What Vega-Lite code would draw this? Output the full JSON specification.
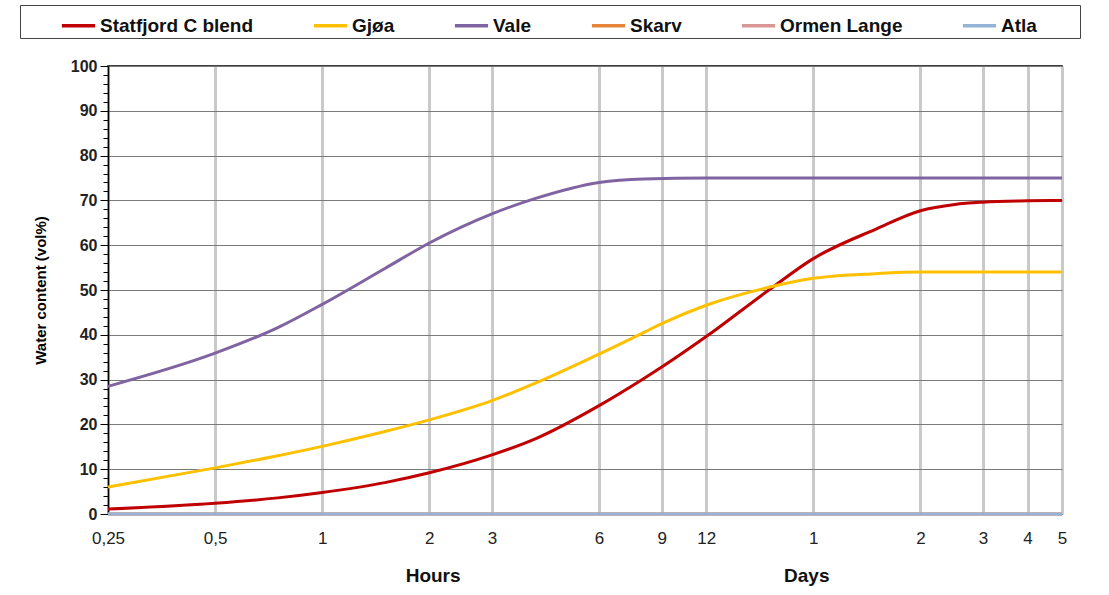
{
  "$schema": "https://vega.github.io/schema/vega-lite/v6.json",
  "width": 954,
  "height": 448,
  "autosize": {"type": "none"},
  "padding": {"left": 108, "top": 66, "right": 47, "bottom": 81},
  "background": "white",
  "config": {
    "font": "Liberation Sans",
    "view": {"stroke": "#000", "strokeWidth": 1.5}
  },
  "layer": [
    {
      "data": {
        "values": [
          {"series": "Statfjord C blend", "hours": 0.25, "water": 1.1},
          {"series": "Statfjord C blend", "hours": 0.5, "water": 2.4},
          {"series": "Statfjord C blend", "hours": 0.75, "water": 3.6},
          {"series": "Statfjord C blend", "hours": 1, "water": 4.8},
          {"series": "Statfjord C blend", "hours": 1.5, "water": 7.0},
          {"series": "Statfjord C blend", "hours": 2, "water": 9.2},
          {"series": "Statfjord C blend", "hours": 3, "water": 13.2},
          {"series": "Statfjord C blend", "hours": 4, "water": 16.9},
          {"series": "Statfjord C blend", "hours": 6, "water": 24.2},
          {"series": "Statfjord C blend", "hours": 8, "water": 30.2},
          {"series": "Statfjord C blend", "hours": 9, "water": 32.8},
          {"series": "Statfjord C blend", "hours": 12, "water": 39.6},
          {"series": "Statfjord C blend", "hours": 18, "water": 50.0},
          {"series": "Statfjord C blend", "hours": 24, "water": 57.0},
          {"series": "Statfjord C blend", "hours": 36, "water": 63.6},
          {"series": "Statfjord C blend", "hours": 48, "water": 67.7},
          {"series": "Statfjord C blend", "hours": 60, "water": 69.1},
          {"series": "Statfjord C blend", "hours": 72, "water": 69.6},
          {"series": "Statfjord C blend", "hours": 96, "water": 69.9},
          {"series": "Statfjord C blend", "hours": 120, "water": 70.0},
          {"series": "Gjøa", "hours": 0.25, "water": 6.0},
          {"series": "Gjøa", "hours": 0.5, "water": 10.3},
          {"series": "Gjøa", "hours": 0.75, "water": 13.0},
          {"series": "Gjøa", "hours": 1, "water": 15.1},
          {"series": "Gjøa", "hours": 1.5, "water": 18.4},
          {"series": "Gjøa", "hours": 2, "water": 21.0},
          {"series": "Gjøa", "hours": 3, "water": 25.3},
          {"series": "Gjøa", "hours": 4, "water": 29.3},
          {"series": "Gjøa", "hours": 6, "water": 35.7},
          {"series": "Gjøa", "hours": 8, "water": 40.5},
          {"series": "Gjøa", "hours": 9, "water": 42.5},
          {"series": "Gjøa", "hours": 12, "water": 46.6},
          {"series": "Gjøa", "hours": 18, "water": 50.6},
          {"series": "Gjøa", "hours": 24, "water": 52.6},
          {"series": "Gjøa", "hours": 36, "water": 53.65},
          {"series": "Gjøa", "hours": 48, "water": 54.0},
          {"series": "Gjøa", "hours": 72, "water": 54.0},
          {"series": "Gjøa", "hours": 120, "water": 54.0},
          {"series": "Vale", "hours": 0.25, "water": 28.5},
          {"series": "Vale", "hours": 0.5, "water": 35.9},
          {"series": "Vale", "hours": 0.75, "water": 41.6},
          {"series": "Vale", "hours": 1, "water": 46.8},
          {"series": "Vale", "hours": 1.5, "water": 54.8},
          {"series": "Vale", "hours": 2, "water": 60.5},
          {"series": "Vale", "hours": 3, "water": 67.0},
          {"series": "Vale", "hours": 4, "water": 70.5},
          {"series": "Vale", "hours": 6, "water": 74.0},
          {"series": "Vale", "hours": 8, "water": 74.8},
          {"series": "Vale", "hours": 12, "water": 75.0},
          {"series": "Vale", "hours": 24, "water": 75.0},
          {"series": "Vale", "hours": 48, "water": 75.0},
          {"series": "Vale", "hours": 120, "water": 75.0},
          {"series": "Skarv", "hours": 0.25, "water": 0},
          {"series": "Skarv", "hours": 120, "water": 0},
          {"series": "Ormen Lange", "hours": 0.25, "water": 0},
          {"series": "Ormen Lange", "hours": 120, "water": 0},
          {"series": "Atla", "hours": 0.25, "water": 0},
          {"series": "Atla", "hours": 120, "water": 0}
        ]
      },
      "mark": {"type": "line", "strokeWidth": 3, "interpolate": "monotone", "clip": false},
      "encoding": {
        "x": {
          "field": "hours",
          "type": "quantitative",
          "scale": {"type": "log", "domain": [0.25, 120], "nice": false},
          "axis": {
            "title": null,
            "values": [0.25, 0.5, 1, 2, 3, 6, 9, 12, 24, 48, 72, 96, 120],
            "labelExpr": "datum.value >= 24 ? toString(datum.value / 24) : replace(toString(datum.value), '.', ',')",
            "labelFlush": false,
            "labelOverlap": false,
            "grid": true,
            "gridColor": "#c9c9c9",
            "gridWidth": 3,
            "ticks": false,
            "domain": false,
            "labelFontSize": 17,
            "labelColor": "#222",
            "labelPadding": 16
          }
        },
        "y": {
          "field": "water",
          "type": "quantitative",
          "scale": {"domain": [0, 100], "nice": false},
          "axis": {
            "title": "Water content (vol%)",
            "titleFontSize": 15,
            "titleFontWeight": "bold",
            "titleColor": "#000",
            "titlePadding": 22,
            "values": [0,2,4,6,8,10,12,14,16,18,20,22,24,26,28,30,32,34,36,38,40,42,44,46,48,50,52,54,56,58,60,62,64,66,68,70,72,74,76,78,80,82,84,86,88,90,92,94,96,98,100],
            "labelExpr": "datum.value % 10 === 0 ? datum.label : ''",
            "labelOverlap": false,
            "labelFontSize": 16,
            "labelFontWeight": "bold",
            "labelColor": "#222",
            "labelPadding": 3,
            "grid": true,
            "gridColor": "#7a7a7a",
            "gridWidth": 1,
            "gridOpacity": {"condition": {"test": "datum.value % 10 !== 0", "value": 0}, "value": 1},
            "tickColor": "#000",
            "tickSize": {"condition": {"test": "datum.value % 10 === 0", "value": 8}, "value": 5},
            "domainColor": "#000",
            "domainWidth": 1.5
          }
        },
        "color": {
          "field": "series",
          "type": "nominal",
          "sort": ["Statfjord C blend", "Gjøa", "Vale", "Skarv", "Ormen Lange", "Atla"],
          "scale": {
            "domain": ["Statfjord C blend", "Gjøa", "Vale", "Skarv", "Ormen Lange", "Atla"],
            "range": ["#c00000", "#ffc000", "#8064a2", "#e6853a", "#d99694", "#95b3d7"]
          },
          "legend": {
            "orient": "none",
            "legendX": -88,
            "legendY": -61,
            "direction": "horizontal",
            "title": " ",
            "titleOrient": "left",
            "titlePadding": 38,
            "titleFontSize": 10,
            "symbolType": "stroke",
            "symbolStrokeWidth": 3.5,
            "symbolSize": 1100,
            "labelFontSize": 19,
            "labelFontWeight": "bold",
            "labelColor": "#111",
            "labelOffset": 3,
            "labelLimit": 300,
            "columnPadding": 52,
            "padding": 2,
            "strokeColor": "#444",
            "fillColor": "white",
            "labelExpr": "datum.label == 'Atla' ? 'Atla     \u2800' : datum.label"
          }
        }
      }
    },
    {
      "data": {
        "values": [
          {"text": "Hours", "hours": 2.05},
          {"text": "Days", "hours": 23}
        ]
      },
      "mark": {"type": "text", "fontSize": 19, "fontWeight": "bold", "color": "#111", "baseline": "middle", "align": "center"},
      "encoding": {
        "x": {"field": "hours", "type": "quantitative"},
        "y": {
          "datum": -13.8,
          "type": "quantitative",
          "axis": {
            "title": "Water content (vol%)",
            "titleFontSize": 15,
            "titleFontWeight": "bold",
            "titleColor": "#000",
            "titlePadding": 22,
            "values": [0,2,4,6,8,10,12,14,16,18,20,22,24,26,28,30,32,34,36,38,40,42,44,46,48,50,52,54,56,58,60,62,64,66,68,70,72,74,76,78,80,82,84,86,88,90,92,94,96,98,100],
            "labelExpr": "datum.value % 10 === 0 ? datum.label : ''",
            "labelOverlap": false,
            "labelFontSize": 16,
            "labelFontWeight": "bold",
            "labelColor": "#222",
            "labelPadding": 3,
            "grid": true,
            "gridColor": "#7a7a7a",
            "gridWidth": 1,
            "gridOpacity": {"condition": {"test": "datum.value % 10 !== 0", "value": 0}, "value": 1},
            "tickColor": "#000",
            "tickSize": {"condition": {"test": "datum.value % 10 === 0", "value": 8}, "value": 5},
            "domainColor": "#000",
            "domainWidth": 1.5
          }
        },
        "text": {"field": "text"}
      }
    }
  ]
}
